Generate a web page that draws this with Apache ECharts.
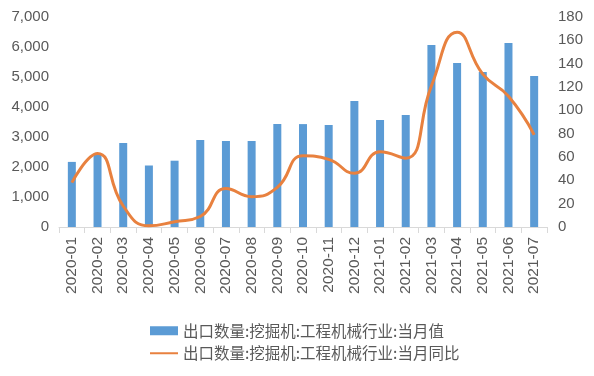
<!DOCTYPE html>
<html><head><meta charset="utf-8">
<script src="https://cdn.jsdelivr.net/npm/echarts@6/dist/echarts.min.js"></script>
<style>html,body{margin:0;padding:0;background:#fff}#c{width:594px;height:376px}</style>
</head><body><div id="c"></div>
<script>
const categories = ['2020-01','2020-02','2020-03','2020-04','2020-05','2020-06','2020-07','2020-08','2020-09','2020-10','2020-11','2020-12','2021-01','2021-02','2021-03','2021-04','2021-05','2021-06','2021-07'];
const monthlyValue = [2170,2400,2800,2050,2210,2900,2870,2870,3430,3430,3400,4200,3570,3730,6070,5470,5170,6130,5030];
const yoyPct = [38,63,18,1,4.5,9,33,26,34,61,58,46,64.5,59,121,167,131,112,79];
const leftTicks = {min:0,max:7000,interval:1000};
const rightTicks = {min:0,max:180,interval:20};
const barName = '出口数量:挖掘机:工程机械行业:当月值';
const lineName = '出口数量:挖掘机:工程机械行业:当月同比';

const font = "'Liberation Sans','Noto Sans CJK SC',sans-serif";
const chart = echarts.init(document.getElementById('c'));
chart.setOption({
  animation:false,
  textStyle:{fontFamily:font},
  grid:{left:59,right:47,top:17,bottom:149,containLabel:false},
  legend:{
    orient:'vertical', left:144, top:318, itemGap:7,
    itemWidth:28, itemHeight:9,
    textStyle:{color:'#595959',fontSize:15.5,fontFamily:"'Noto Sans CJK SC',sans-serif"},
    data:[{name:barName,icon:'rect'},{name:lineName,itemStyle:{opacity:0}}]
  },
  xAxis:{
    type:'category', data:categories, boundaryGap:true,
    axisLine:{lineStyle:{color:'#d9d9d9'}},
    axisTick:{show:true,length:6,lineStyle:{color:'#d9d9d9'}},
    axisLabel:{rotate:90,color:'#595959',fontSize:15.5,margin:10,interval:0}
  },
  yAxis:[
    {type:'value',min:leftTicks.min,max:leftTicks.max,interval:leftTicks.interval,
     splitLine:{show:false},axisLine:{show:false},axisTick:{show:false},
     axisLabel:{color:'#595959',fontSize:15,margin:10,
       formatter:v=>v.toLocaleString('en-US')}},
    {type:'value',min:rightTicks.min,max:rightTicks.max,interval:rightTicks.interval,
     splitLine:{show:false},axisLine:{show:false},axisTick:{show:false},
     axisLabel:{color:'#595959',fontSize:15,margin:11}}
  ],
  series:[
    {name:barName,type:'bar',data:monthlyValue,barWidth:8,
     itemStyle:{color:'#5B9BD5'}},
    {name:lineName,type:'line',yAxisIndex:1,data:yoyPct,smooth:0.5,
     symbol:'none',showSymbol:false,
     lineStyle:{color:'#E8813F',width:3},itemStyle:{color:'#E8813F'}}
  ]
});
</script></body></html>
